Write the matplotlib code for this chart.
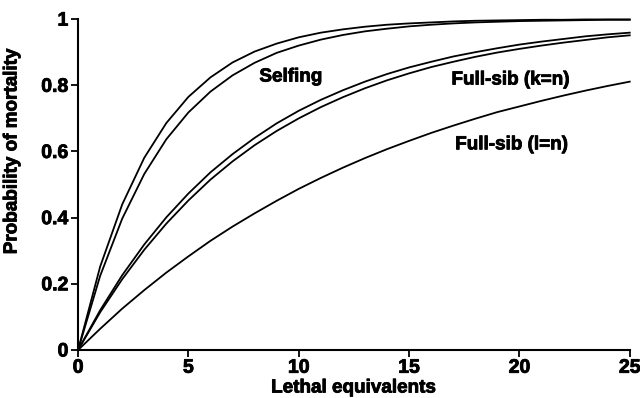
import matplotlib
matplotlib.use("Agg")
import matplotlib.pyplot as plt
import matplotlib.patheffects as pe

lethal_eq = list(range(0, 26))

selfing_upper = [0, 0.252, 0.440, 0.581, 0.686, 0.765, 0.824, 0.869, 0.902, 0.926,
                 0.945, 0.959, 0.969, 0.977, 0.983, 0.987, 0.990, 0.993, 0.995, 0.996,
                 0.997, 0.998, 0.998, 0.999, 0.999, 0.999]
selfing_lower = [0, 0.224, 0.397, 0.532, 0.637, 0.718, 0.781, 0.830, 0.868, 0.898,
                 0.920, 0.938, 0.952, 0.963, 0.971, 0.978, 0.983, 0.987, 0.990, 0.992,
                 0.994, 0.995, 0.996, 0.997, 0.998, 0.998]
fullsib_k_upper = [0, 0.120, 0.226, 0.319, 0.401, 0.473, 0.537, 0.592, 0.641, 0.685,
                   0.723, 0.756, 0.785, 0.811, 0.834, 0.854, 0.871, 0.887, 0.900, 0.912,
                   0.923, 0.932, 0.940, 0.948, 0.954, 0.959]
fullsib_k_lower = [0, 0.114, 0.214, 0.303, 0.382, 0.452, 0.515, 0.570, 0.619, 0.662,
                   0.700, 0.734, 0.764, 0.791, 0.815, 0.836, 0.855, 0.871, 0.886, 0.899,
                   0.910, 0.920, 0.929, 0.937, 0.945, 0.951]
fullsib_l = [0, 0.064, 0.125, 0.181, 0.234, 0.283, 0.330, 0.373, 0.413, 0.451,
             0.487, 0.520, 0.551, 0.580, 0.607, 0.632, 0.656, 0.678, 0.699, 0.719,
             0.736, 0.753, 0.769, 0.784, 0.798, 0.811]

x_ticks = [0, 5, 10, 15, 20, 25]
x_tick_labels = ["0", "5", "10", "15", "20", "25"]
y_ticks = [0, 0.2, 0.4, 0.6, 0.8, 1.0]
y_tick_labels = ["0", "0.2", "0.4", "0.6", "0.8", "1"]

labels = ["Selfing", "Full-sib (k=n)", "Full-sib (l=n)"]
label_pos = [(9.65, 0.825), (19.6, 0.816), (19.65, 0.62)]

plt.rcParams['font.family'] = ['Liberation Sans', 'DejaVu Sans']
plt.rcParams['font.weight'] = 'bold'

heavy = [pe.withStroke(linewidth=0.6, foreground='black')]

fig = plt.figure(figsize=(6.4, 3.98), dpi=100)
ax = fig.add_axes([0.122, 0.1206, 0.862, 0.8314])

for series in [selfing_upper, selfing_lower, fullsib_k_upper, fullsib_k_lower, fullsib_l]:
    ax.plot(lethal_eq, series, color='black', lw=1.3, clip_on=False)

for text, (tx, ty) in zip(labels, label_pos):
    ax.text(tx, ty, text, ha='center', va='center', fontsize=13.6,
            fontweight='bold', path_effects=heavy)

ax.set_xlim(0, 25)
ax.set_ylim(0, 1)
ax.set_xticks(x_ticks)
ax.set_xticklabels(x_tick_labels)
ax.set_yticks(y_ticks)
ax.set_yticklabels(y_tick_labels)
ax.tick_params(direction='out', length=5, width=1.3, labelsize=14, pad=2)
for lab in ax.get_xticklabels() + ax.get_yticklabels():
    lab.set_fontweight('bold')
    lab.set_path_effects(heavy)
ax.spines['top'].set_visible(False)
ax.spines['right'].set_visible(False)
ax.spines['left'].set_linewidth(1.5)
ax.spines['bottom'].set_linewidth(1.5)

fig.text(272 / 640 + (435 - 272) / 1280, 1 - 388 / 398, "Lethal equivalents",
         ha='center', va='center', fontsize=13.6, fontweight='bold', path_effects=heavy)
fig.text(12 / 640, 1 - 151 / 398, "Probability of mortality", rotation=90,
         ha='center', va='center', fontsize=13.6, fontweight='bold', path_effects=heavy)

fig.savefig("out.png", dpi=100)
